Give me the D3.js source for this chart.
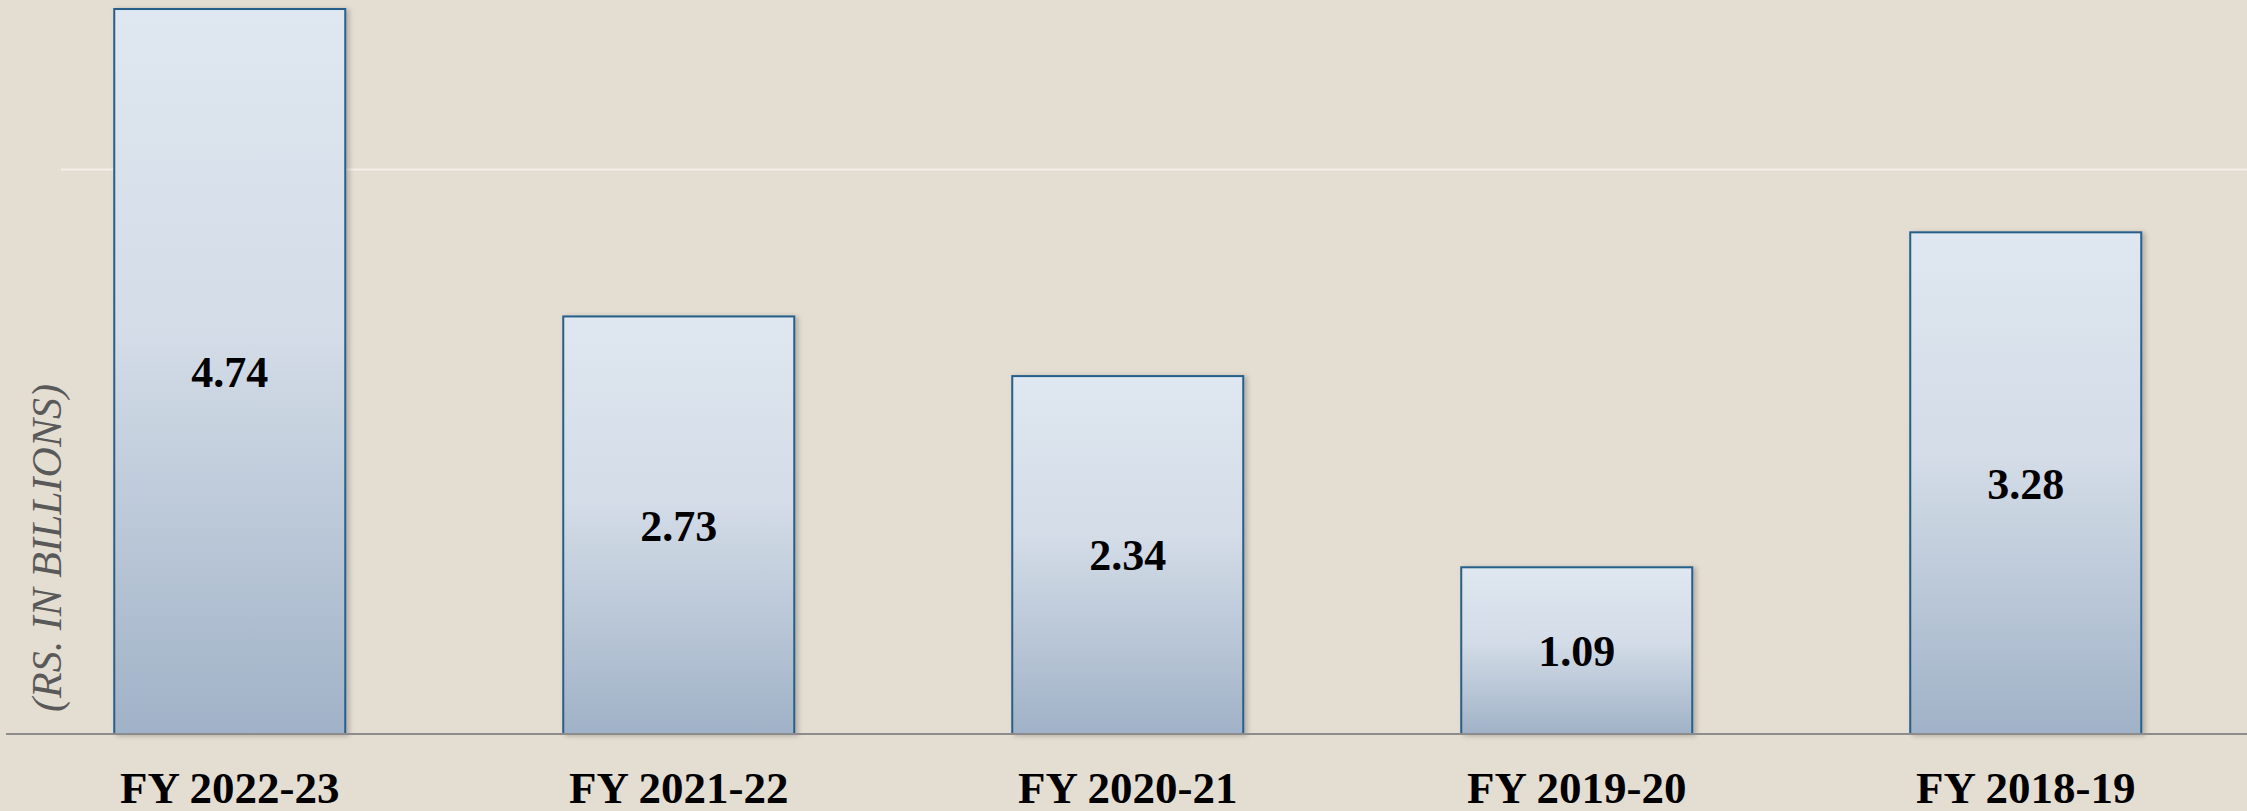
<!DOCTYPE html>
<html>
<head>
<meta charset="utf-8">
<script src="https://cdn.jsdelivr.net/npm/d3@7"></script>
<style>
  html, body { margin: 0; padding: 0; background: #e4ddd2; }
  svg { display: block; }
</style>
</head>
<body>
<script>
const categories = ["FY 2022-23", "FY 2021-22", "FY 2020-21", "FY 2019-20", "FY 2018-19"];
const values = [4.74, 2.73, 2.34, 1.09, 3.28];
const gridTicks = [3.69];
const yAxisTitle = "(RS. IN BILLIONS)";

const W = 2247, H = 811;
const baseY = 734;
const unit = 152.95;

const svg = d3.select("body").append("svg")
  .attr("width", W).attr("height", H);

svg.append("rect").attr("width", W).attr("height", H).attr("fill", "#e4ddd2");

const defs = svg.append("defs");
const grad = defs.append("linearGradient").attr("id", "barGrad")
  .attr("x1", 0).attr("y1", 0).attr("x2", 0).attr("y2", 1);
grad.append("stop").attr("offset", "0%").attr("stop-color", "#dfe7f0");
grad.append("stop").attr("offset", "45%").attr("stop-color", "#d3dce7");
grad.append("stop").attr("offset", "100%").attr("stop-color", "#a0b2c7");

const filt = defs.append("filter").attr("id", "shadow")
  .attr("x", "-10%").attr("y", "-10%").attr("width", "130%").attr("height", "120%");
filt.append("feDropShadow").attr("dx", 3).attr("dy", 1).attr("stdDeviation", 2.5)
  .attr("flood-color", "#000").attr("flood-opacity", 0.22);

const x = d3.scaleBand().domain(categories)
  .range([2, 2253.5]).paddingInner(0.4855).paddingOuter(0.25);
const y = d3.scaleLinear().domain([0, 4.8]).range([baseY, baseY - 4.8 * unit]);

// gridlines
svg.append("g").selectAll("line").data(gridTicks).join("line")
  .attr("x1", 61).attr("x2", W)
  .attr("y1", d => y(d)).attr("y2", d => y(d))
  .attr("stroke", "#f3f0ea").attr("stroke-width", 2);

// bars
const data = categories.map((c, i) => ({ c, v: values[i] }));
svg.append("g").selectAll("rect").data(data).join("rect")
  .attr("x", d => x(d.c))
  .attr("y", d => y(d.v))
  .attr("width", x.bandwidth())
  .attr("height", d => baseY - y(d.v))
  .attr("fill", "url(#barGrad)")
  .attr("stroke", "#255f8a")
  .attr("stroke-width", 2)
  .attr("filter", "url(#shadow)");

// x axis line
svg.append("line").attr("x1", 6).attr("x2", W)
  .attr("y1", baseY).attr("y2", baseY)
  .attr("stroke", "#8c8c8c").attr("stroke-width", 2);

// x axis labels
const xAxis = d3.axisBottom(x).tickSize(0).tickPadding(0);
const gx = svg.append("g").attr("transform", `translate(0,${baseY})`).call(xAxis);
gx.select(".domain").remove();
gx.selectAll("text")
  .attr("y", 69).attr("dy", 0)
  .attr("font-family", "'Liberation Serif', 'Times New Roman', serif")
  .attr("font-weight", "bold")
  .attr("font-size", 45)
  .attr("fill", "#000");

// value labels
svg.append("g").selectAll("text").data(data).join("text")
  .attr("x", d => x(d.c) + x.bandwidth() / 2)
  .attr("y", d => (y(d.v) + baseY) / 2)
  .attr("dy", "0.35em")
  .attr("text-anchor", "middle")
  .attr("font-family", "'Liberation Serif', 'Times New Roman', serif")
  .attr("font-weight", "bold")
  .attr("font-size", 44)
  .attr("fill", "#000")
  .text(d => d.v.toFixed(2));

// y axis title
svg.append("text")
  .attr("transform", "translate(61,548) rotate(-90)")
  .attr("text-anchor", "middle")
  .attr("font-family", "'Liberation Serif', 'Times New Roman', serif")
  .attr("font-style", "italic")
  .attr("font-size", 42)
  .attr("fill", "#595959")
  .text(yAxisTitle);
</script>
</body>
</html>
